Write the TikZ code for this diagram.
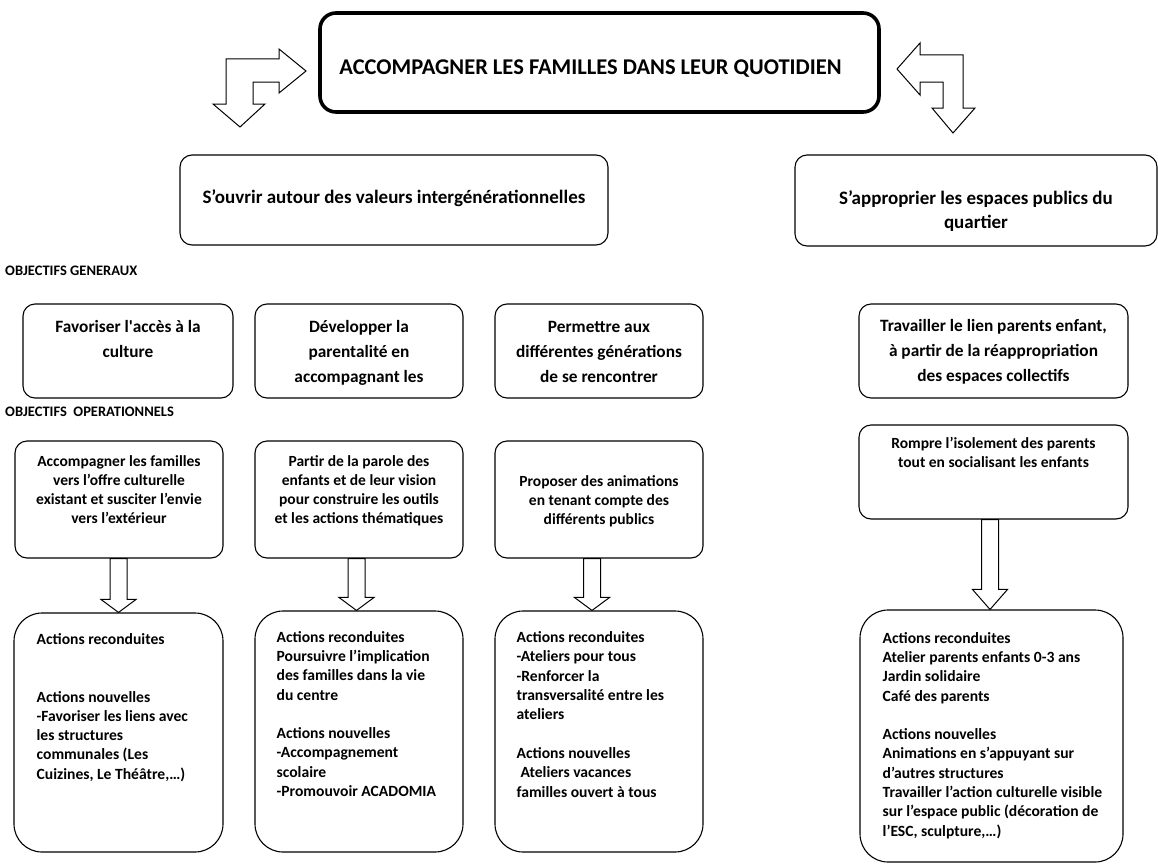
\documentclass[tikz,border=0pt]{standalone}
\usepackage{fontspec}
\setmainfont{Carlito}
\usetikzlibrary{positioning,calc}

% block arrow pointing down from one box to the next
\newcommand{\fatdown}[4]{%
  \draw[fatarrow] let \p1=(#1.south), \p2=(#2.north) in
    (#3-8.5,\y1) -- (#3+8.5,\y1) -- (#3+8.5,\y2+#4) -- (#3+17.5,\y2+#4)
    -- (#3,\y2) -- (#3-17.5,\y2+#4) -- (#3-8.5,\y2+#4) -- cycle;}

\begin{document}
\begin{tikzpicture}[x=1pt,y=-1pt,
    box/.style={draw,line width=1.1pt,rounded corners=12pt,inner sep=0pt},
    mainbox/.style={draw,line width=3.6pt,rounded corners=16pt,inner sep=0pt},
    actbox/.style={box,rounded corners=28pt},
    fatarrow/.style={draw,line width=1pt,fill=white},
    title/.style={font=\bfseries\fontsize{22.5}{26}\selectfont,inner sep=0pt},
    goal/.style={font=\bfseries\fontsize{19}{23.5}\selectfont,align=center,inner sep=0pt},
    head/.style={font=\bfseries\fontsize{14.5}{17}\selectfont,inner sep=0pt},
    og/.style={font=\bfseries\fontsize{17.3}{25}\selectfont,align=center,inner sep=0pt},
    oo/.style={font=\bfseries\fontsize{15.5}{19}\selectfont,align=center,inner sep=0pt},
    act/.style={font=\bfseries\fontsize{15.6}{19.3}\selectfont,align=left,inner sep=0pt}]

    \useasboundingbox (0,0) rectangle (1158,867);

    % main aim
    \node[mainbox,minimum width=559pt,minimum height=99pt] (main) at (599.5,62.5) {};
    \node[title,below=63pt of main.north,anchor=base,xshift=-9pt] (maintxt) {ACCOMPAGNER LES FAMILLES DANS LEUR QUOTIDIEN};

    \draw[fatarrow] (226,59) -- (279,59) -- (279,49) -- (306,71) -- (279,93) -- (279,82)
        -- (253,82) -- (253,104) -- (265,104) -- (240,127) -- (213,104) -- (226,104) -- cycle;
    \draw[fatarrow] (897,69) -- (920,43) -- (920,55) -- (963,55) -- (963,108) -- (975,108)
        -- (953,133) -- (932,108) -- (943,108) -- (943,82) -- (920,82) -- (920,95) -- cycle;

    % two axes
    \node[box,minimum width=428pt,minimum height=90pt] (ouvrir) at (394,200) {};
    \node[goal,below=49pt of ouvrir.north,anchor=base] (ouvrirtxt) {S’ouvrir autour des valeurs intergénérationnelles};
    \node[box,minimum width=362pt,minimum height=91pt] (approp) at (976,200.5) {};
    \node[goal,below=33.5pt of approp.north] (approptxt) {\strut S’approprier les espaces publics du\\quartier};

    \node[head,anchor=base west] (ogtitle) at (5,275) {OBJECTIFS GENERAUX};
    \node[head,anchor=base west] (ootitle) at (5,416) {OBJECTIFS\ \ OPERATIONNELS};

    % objectifs generaux
    \node[box,minimum width=210pt,minimum height=94pt] (og1) at (128,351) {};
    \node[box,minimum width=208pt,minimum height=94pt] (og2) at (359,351) {};
    \node[box,minimum width=208pt,minimum height=94pt] (og3) at (599,351) {};
    \node[box,minimum width=269pt,minimum height=94pt] (og4) at (993.5,351) {};
    \node[og,below=11pt of og1.north] (og1txt) {\strut Favoriser l\textquotesingle accès à la\\culture};
    \node[og,below=11pt of og2.north] (og2txt) {\strut Développer la\\parentalité en\\accompagnant les};
    \node[og,below=11pt of og3.north] (og3txt) {\strut Permettre aux\\différentes générations\\de se rencontrer};
    \node[og,below=10pt of og4.north] (og4txt) {\strut Travailler le lien parents enfant,\\à partir de la réappropriation\\des espaces collectifs};

    % objectifs operationnels
    \node[box,minimum width=208pt,minimum height=117pt] (oo1) at (119,499.5) {};
    \node[box,minimum width=208pt,minimum height=117pt] (oo2) at (359,499.5) {};
    \node[box,minimum width=208pt,minimum height=117pt] (oo3) at (599,499.5) {};
    \node[box,minimum width=269pt,minimum height=94pt] (oo4) at (993.5,472) {};
    \node[oo,below=12.5pt of oo1.north] (oo1txt) {\strut Accompagner les familles\\vers l’offre culturelle\\existant et susciter l’envie\\vers l’extérieur};
    \node[oo,below=12.5pt of oo2.north] (oo2txt) {\strut Partir de la parole des\\enfants et de leur vision\\pour construire les outils\\et les actions thématiques};
    \node[oo,below=32.5pt of oo3.north] (oo3txt) {\strut Proposer des animations\\en tenant compte des\\différents publics};
    \node[oo,below=11pt of oo4.north] (oo4txt) {\strut Rompre l’isolement des parents\\tout en socialisant les enfants};

    % actions
    \node[actbox,minimum width=209pt,minimum height=239pt] (ac1) at (118.5,732.5) {};
    \node[actbox,minimum width=208pt,minimum height=241pt] (ac2) at (359,731.5) {};
    \node[actbox,minimum width=208pt,minimum height=241pt] (ac3) at (599,731.5) {};
    \node[actbox,minimum width=263pt,minimum height=252pt] (ac4) at (991.5,736) {};
    \node[act,below right=18pt and 23pt of ac1.north west] (ac1txt)
        {\strut Actions reconduites\\[38.6pt]Actions nouvelles\\-Favoriser les liens avec\\les structures\\communales (Les\\Cuizines, Le Théâtre,…)};
    \node[act,below right=18pt and 22pt of ac2.north west] (ac2txt)
        {\strut Actions reconduites\\Poursuivre l’implication\\des familles dans la vie\\du centre\\[19.3pt]Actions nouvelles\\-Accompagnement\\scolaire\\-Promouvoir ACADOMIA};
    \node[act,below right=18.5pt and 22pt of ac3.north west] (ac3txt)
        {\strut Actions reconduites\\-Ateliers pour tous\\-Renforcer la\\transversalité entre les\\ateliers\\[19.3pt]Actions nouvelles\\\hspace*{4pt}Ateliers vacances\\familles ouvert à tous};
    \node[act,below right=20pt and 23pt of ac4.north west] (ac4txt)
        {\strut Actions reconduites\\Atelier parents enfants 0-3 ans\\Jardin solidaire\\Café des parents\\[19.3pt]Actions nouvelles\\Animations en s’appuyant sur\\d’autres structures\\Travailler l’action culturelle visible\\sur l’espace public (décoration de\\l’ESC, sculpture,…)};

    \fatdown{oo1}{ac1}{118.5}{13}
    \fatdown{oo2}{ac2}{356.5}{13}
    \fatdown{oo3}{ac3}{592}{13}
    \fatdown{oo4}{ac4}{990}{20}
\end{tikzpicture}
\end{document}
